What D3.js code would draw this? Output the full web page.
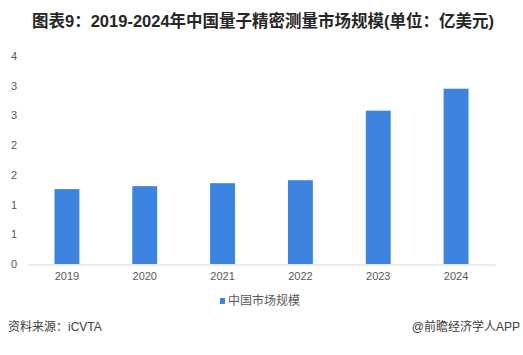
<!DOCTYPE html>
<html><head><meta charset="utf-8">
<script src="https://cdn.jsdelivr.net/npm/d3@7"></script>
<style>
body{margin:0;background:#fff;}
svg{display:block;font-family:"Liberation Sans","Noto Sans CJK SC",sans-serif;}
</style></head>
<body><svg id="c" width="523" height="355"></svg>
<script>
const categories = ["2019","2020","2021","2022","2023","2024"];
const values = [1.26, 1.31, 1.36, 1.41, 2.58, 2.95];
const yTicks = [0,0.5,1,1.5,2,2.5,3,3.5];
const seriesName = "中国市场规模";
const title = "图表9：2019-2024年中国量子精密测量市场规模(单位：亿美元)";
const source = "资料来源：iCVTA";
const credit = "@前瞻经济学人APP";

const svg = d3.select("#c");
const x = d3.scaleBand().domain(categories).range([28,495]).paddingInner(0.68).paddingOuter(0.34);
const y = d3.scaleLinear().domain([0,3.5]).range([264,56]);

svg.append("text").attr("x",32).attr("y",27).attr("font-size",16.5).attr("font-weight","bold")
  .attr("fill","#262626").text(title);

// y labels
svg.selectAll(".yl").data(yTicks).enter().append("text")
  .attr("x",14).attr("y",d=>y(d)+4).attr("text-anchor","middle")
  .attr("font-size",11).attr("fill","#595959").text(d=>Math.round(d));

// bars
svg.selectAll(".bar").data(values).enter().append("rect")
  .attr("x",(d,i)=>x(categories[i])).attr("width",x.bandwidth())
  .attr("y",d=>y(d)).attr("height",d=>y(0)-y(d)).attr("fill","#3d84e0");

// x axis
const xa = svg.append("g").attr("transform","translate(0,264.5)").call(d3.axisBottom(x).tickSize(0).tickPadding(8));
xa.select(".domain").attr("stroke","#d9d9d9");
xa.selectAll("text").attr("font-size",11).attr("fill","#595959").attr("font-family",null);

// legend
svg.append("rect").attr("x",220).attr("y",298).attr("width",5).attr("height",6).attr("fill","#3d84e0");
svg.append("text").attr("x",228).attr("y",305).attr("font-size",12).attr("fill","#595959").text(seriesName);

svg.append("text").attr("x",8).attr("y",331).attr("font-size",12).attr("fill","#404040").text(source);
svg.append("text").attr("x",520).attr("y",331).attr("text-anchor","end").attr("font-size",12).attr("fill","#404040").text(credit);
</script></body></html>
